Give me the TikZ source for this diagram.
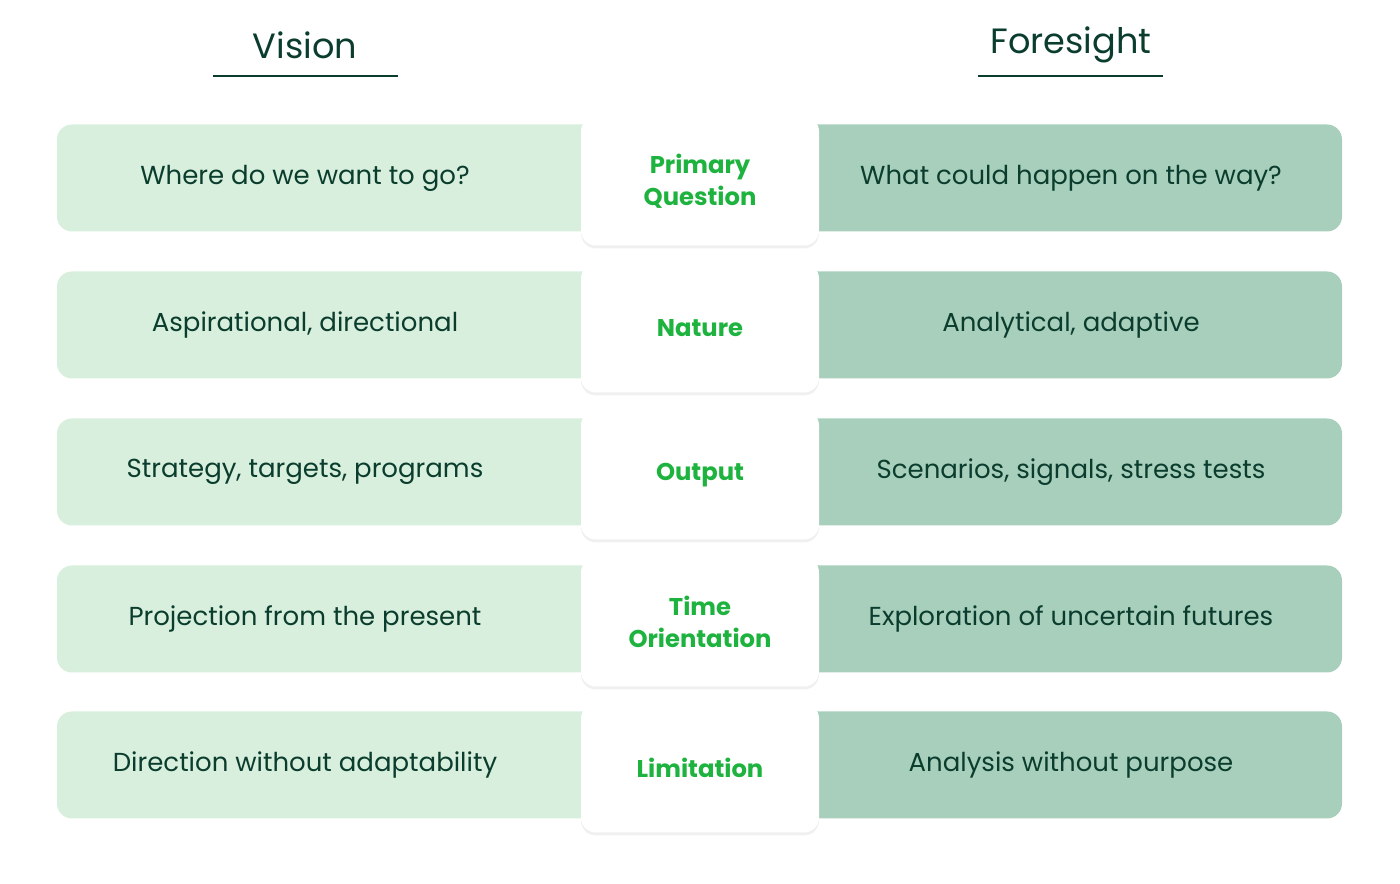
\documentclass[tikz,border=0pt]{standalone}
\usepackage{fontspec}
\setmainfont{Poppins}
\usetikzlibrary{positioning,shadows}
\definecolor{visionbg}{HTML}{D7EFDC}
\definecolor{foresightbg}{HTML}{A8CFBC}
\definecolor{darkgreen}{HTML}{0B3D2E}
\definecolor{brightgreen}{HTML}{1DB33E}
\tikzset{
  head/.style = {font = {\fontsize{10pt}{12pt}\selectfont}, text = darkgreen},
  bar/.style = {rounded corners = 0.15cm, minimum height = 1.07cm, minimum width = 5.4cm, inner sep = 0pt},
  cell/.style = {font = {\fontsize{7.4pt}{9pt}\selectfont}, text = darkgreen},
  mid/.style = {fill = white, rounded corners = 0.15cm, minimum width = 2.38cm, minimum height = 1.29cm,
    align = center, inner sep = 0pt, text = brightgreen,
    font = {\fontsize{6.9pt}{9.1pt}\selectfont\bfseries},
    drop shadow = {shadow xshift = 0pt, shadow yshift = -0.03cm, opacity = 0.12}}
}
\begin{document}
\begin{tikzpicture}
  \useasboundingbox (0, 0) rectangle (14, 8.84);
  \node[head] (vision) at (3.05, 8.39) {Vision};
  \node[head] (foresight) at (10.71, 8.39) {Foresight};
  \draw[darkgreen, line width = 0.02cm] (2.13, 8.08) -- (3.98, 8.08);
  \draw[darkgreen, line width = 0.02cm] (9.78, 8.08) -- (11.63, 8.08);

  \foreach \y/\vtext/\ftext/\mtext [count = \i] in {
      7.06/Where do we want to go?/What could happen on the way?/Primary\\Question,
      5.59/{Aspirational, directional}/{Analytical, adaptive}/Nature,
      4.12/{Strategy, targets, programs}/{Scenarios, signals, stress tests}/Output,
      2.65/Projection from the present/Exploration of uncertain futures/Time\\Orientation,
      1.19/Direction without adaptability/Analysis without purpose/Limitation} {
    \fill[visionbg, rounded corners = 0.15cm] (0.57, \y - 0.535) rectangle (6.0, \y + 0.535);
    \fill[foresightbg, rounded corners = 0.15cm] (8.0, \y - 0.535) rectangle (13.42, \y + 0.535);
    \node[cell] (v\i) at (3.05, \y) {\vtext};
    \node[cell] (f\i) at (10.71, \y) {\ftext};
    \node[mid] (m\i) at (7.0, \y - 0.03) {\mtext};
  }
\end{tikzpicture}
\end{document}
